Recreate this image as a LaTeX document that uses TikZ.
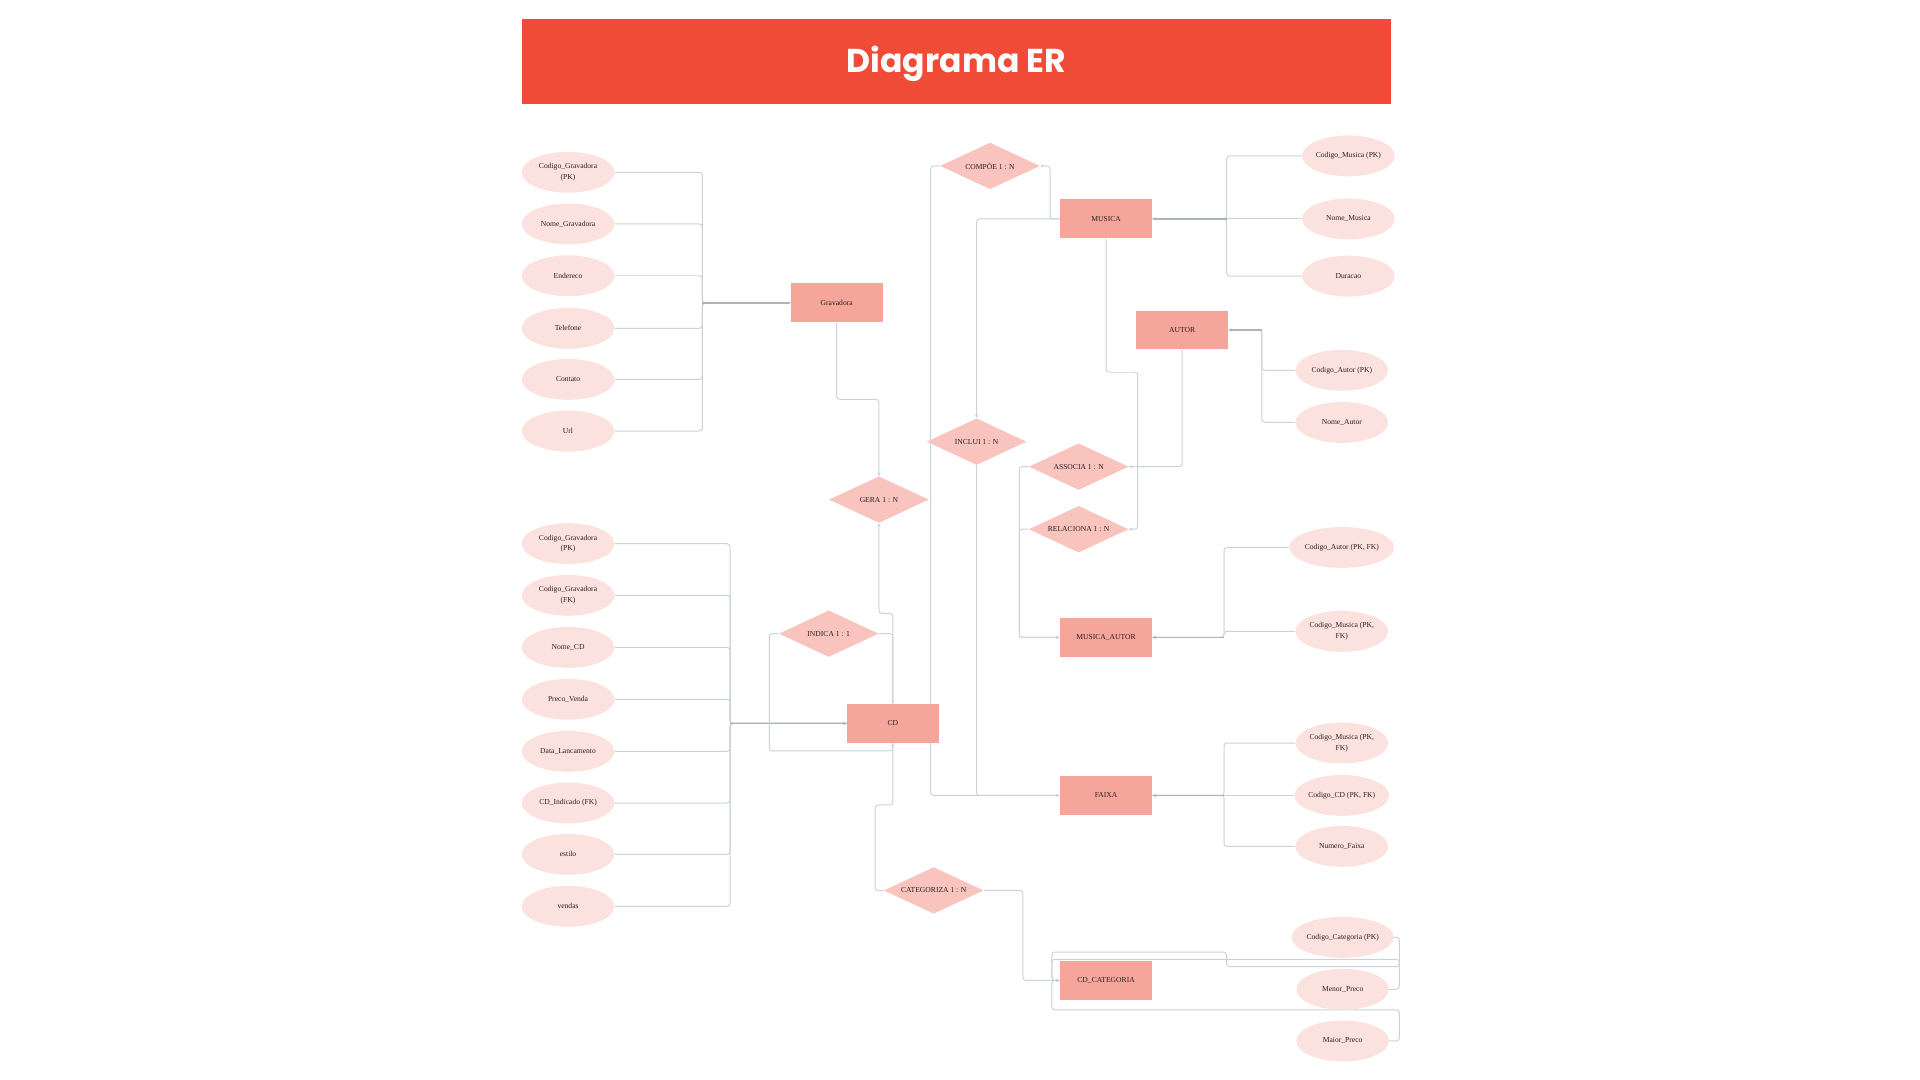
\documentclass[tikz,border=0pt]{standalone}
\usepackage{fontspec}
\setmainfont{Liberation Serif}
\newfontfamily\titlefont{Poppins}
\usetikzlibrary{shapes.geometric,arrows.meta,backgrounds}
\definecolor{barc}{HTML}{F04B36}
\definecolor{entc}{HTML}{F6A59A}
\definecolor{relc}{HTML}{F9C4BE}
\definecolor{attrc}{HTML}{FCE2DF}
\definecolor{linec}{HTML}{CBD3DA}
\definecolor{lined}{HTML}{A9B4BF}
\definecolor{txtc}{HTML}{2A1F1F}
\begin{document}
\begin{tikzpicture}[x=1pt,y=-1pt,
  lbl/.style={font=\fontsize{6.2}{8.6}\selectfont, text=txtc},
  ent/.style={rectangle, fill=entc, minimum width=75.3pt, minimum height=31.8pt, inner sep=0pt, lbl},
  attr/.style={ellipse, fill=attrc, minimum width=75.6pt, minimum height=33.4pt, inner sep=0pt, align=center, lbl},
  rel/.style={diamond, fill=relc, minimum width=81.4pt, minimum height=38pt, inner sep=0pt},
  conn/.style={draw=linec, line width=0.8pt, rounded corners=2.5pt},
  connd/.style={draw=lined, line width=1.3pt},
  tip/.style={-{Stealth[length=3pt,width=2.6pt]}}
]
\useasboundingbox (0,0) rectangle (1568,882);

% title
\node[fill=barc, minimum width=710pt, minimum height=70pt, inner sep=0pt, anchor=north west] (title) at (426,15) {};
\node[font=\titlefont\bfseries\fontsize{27}{30}\selectfont, text=white, anchor=base, inner sep=0pt] (titletxt) at (781,59.3) {Diagrama ER};

% entities
\node[ent] (grav) at (683.3,247.4) {Gravadora};
\node[ent] (cd) at (729.2,590.8) {CD};
\node[ent] (musica) at (903.3,178.8) {MUSICA};
\node[ent] (autor) at (965.4,269.5) {AUTOR};
\node[ent] (ma) at (903.3,520.6) {MUSICA\_AUTOR};
\node[ent] (faixa) at (903.3,649.6) {FAIXA};
\node[ent] (cdcat) at (903.3,800.7) {CD\_CATEGORIA};

% relationships
\node[rel, label={[lbl]center:{COMPÕE 1 : N}}] (compoe) at (808.5,135.5) {};
\node[rel, label={[lbl]center:{INCLUI 1 : N}}] (incl) at (797.5,360.7) {};
\node[rel, label={[lbl]center:{GERA 1 : N}}] (gera) at (717.8,408) {};
\node[rel, label={[lbl]center:{ASSOCIA 1 : N}}] (assoc) at (880.9,381.1) {};
\node[rel, label={[lbl]center:{RELACIONA 1 : N}}] (relac) at (880.9,432.2) {};
\node[rel, label={[lbl]center:{INDICA 1 : 1}}] (indica) at (676.8,517.5) {};
\node[rel, label={[lbl]center:{CATEGORIZA 1 : N}}] (categ) at (762.5,727.2) {};

% Gravadora attributes
\node[attr] (g1) at (463.9,140.7) {Codigo\_Gravadora\\(PK)};
\node[attr] (g2) at (463.9,182.9) {Nome\_Gravadora};
\node[attr] (g3) at (463.9,225.2) {Endereco};
\node[attr] (g4) at (463.9,268.1) {Telefone};
\node[attr] (g5) at (463.9,309.9) {Contato};
\node[attr] (g6) at (463.9,352.1) {Url};

% CD attributes
\node[attr] (c1) at (463.9,444.0) {Codigo\_Gravadora\\(PK)};
\node[attr] (c2) at (463.9,486.2) {Codigo\_Gravadora\\(FK)};
\node[attr] (c3) at (463.9,528.7) {Nome\_CD};
\node[attr] (c4) at (463.9,571.1) {Preco\_Venda};
\node[attr] (c5) at (463.9,613.6) {Data\_Lancamento};
\node[attr] (c6) at (463.9,655.8) {CD\_Indicado (FK)};
\node[attr] (c7) at (463.9,697.7) {estilo};
\node[attr] (c8) at (463.9,740.2) {vendas};

% MUSICA attributes
\node[attr] (m1) at (1101.2,127.3) {Codigo\_Musica (PK)};
\node[attr] (m2) at (1101.2,178.8) {Nome\_Musica};
\node[attr] (m3) at (1101.2,225.5) {Duracao};

% AUTOR attributes
\node[attr] (a1) at (1095.8,302.4) {Codigo\_Autor (PK)};
\node[attr] (a2) at (1095.8,345.0) {Nome\_Autor};

% MUSICA_AUTOR attributes
\node[attr] (ma1) at (1095.8,447.1) {Codigo\_Autor (PK, FK)};
\node[attr] (ma2) at (1095.8,515.6) {Codigo\_Musica (PK,\\FK)};

% FAIXA attributes
\node[attr] (f1) at (1095.8,606.8) {Codigo\_Musica (PK,\\FK)};
\node[attr] (f2) at (1095.8,649.6) {Codigo\_CD (PK, FK)};
\node[attr] (f3) at (1095.8,691.2) {Numero\_Faixa};

% CD_CATEGORIA attributes
\node[attr] (k1) at (1096.5,765.5) {Codigo\_Categoria (PK)};
\node[attr] (k2) at (1096.5,807.9) {Menor\_Preco};
\node[attr] (k3) at (1096.5,850.1) {Maior\_Preco};

% bus points
\coordinate (gbus) at (573.6,247.4);
\coordinate (cbus) at (596.2,590.8);
\coordinate (mbus) at (1001.8,178.8);
\coordinate (abus) at (1030.6,269.5);
\coordinate (mabus) at (999.6,520.6);
\coordinate (fbus) at (999.6,649.6);

\begin{pgfonlayer}{background}
\fill[white] (0,0) rectangle (1568,882);

% attribute connectors
\foreach \n in {g1,g2,g3,g4,g5,g6}
  \draw[conn] (\n.east) -| (gbus) -- (grav.west);
\draw[connd,tip] (gbus) -- (grav.west);

\foreach \n in {c1,c2,c3,c4,c5,c6,c7,c8}
  \draw[conn] (\n.east) -| (cbus) -- (cd.west);
\draw[connd,tip] (cbus) -- (cd.west);

\foreach \n in {m1,m3}
  \draw[conn] (\n.west) -| (mbus) -- (musica.east);
\draw[conn] (m2.west) -- (musica.east);
\draw[connd,tip] (mbus) -- (musica.east);

\foreach \n in {a1,a2}
  \draw[conn] (\n.west) -| (abus) -- (autor.east);
\draw[connd,tip] (abus) -- (autor.east);

\foreach \n in {ma1,ma2}
  \draw[conn] (\n.west) -| (mabus) -- (ma.east);
\draw[connd,tip] (mabus) -- (ma.east);

\foreach \n in {f1,f3}
  \draw[conn] (\n.west) -| (fbus) -- (faixa.east);
\draw[conn] (f2.west) -- (faixa.east);
\draw[connd,tip] (fbus) -- (faixa.east);

% relationship connectors
\draw[conn,tip] (grav.south) |- (717.8,326.1) -- (gera.north);
\draw[conn,tip] (cd.north) -- (729.2,500.9) -| (gera.south);
\draw[conn,tip] (indica.east) -| (cd.north);
\draw[conn,tip] (indica.west) -| (628.3,613.3) -| (cd.south);
\draw[conn] (cd.south) -- (729.2,657.4) -| (714.6,727.2) -- (categ.west);
\draw[conn,tip] (categ.east) -| (835.4,800.7) -- (cdcat.west);

\draw[conn,tip] (musica.west) -| (857.5,135.5) -- (compoe.east);
\draw[conn,tip] (musica.west) -| (incl.north);
\draw[conn,tip] (compoe.west) -| (760,649.6) -- (faixa.west);
\draw[conn,tip] (incl.south) |- (faixa.west);
\draw[conn,tip] (musica.south) |- (929.1,304) |- (relac.east);
\draw[conn,tip] (autor.south) |- (assoc.east);
\draw[conn,tip] (assoc.west) -| (832.4,520.6) -- (ma.west);
\draw[conn,tip] (relac.west) -| (832.4,520.6) -- (ma.west);

% CD_CATEGORIA attribute loops
\draw[conn,tip] (k1.east) -| (1142.9,789.4) -| (1001.7,777.5) -| (859,800.7) -- (cdcat.west);
\draw[conn,tip] (k2.east) -| (1142.9,783.4) -| (859,800.7) -- (cdcat.west);
\draw[conn,tip] (k3.east) -| (1142.9,824.8) -| (859,800.7) -- (cdcat.west);
\end{pgfonlayer}
\end{tikzpicture}
\end{document}
